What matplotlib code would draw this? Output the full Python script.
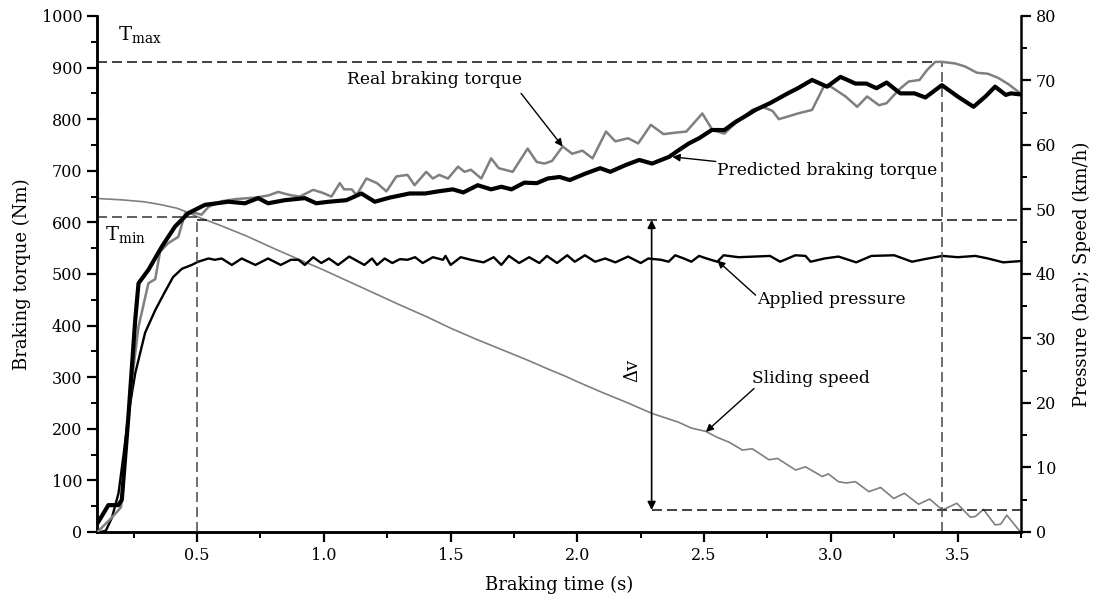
import numpy as np
import matplotlib.pyplot as plt
from matplotlib.ticker import MultipleLocator

plt.rcParams['font.family'] = 'DejaVu Serif'
plt.rcParams['mathtext.fontset'] = 'custom'
plt.rcParams['mathtext.rm'] = 'DejaVu Serif'

# real braking torque (Nm)
t_real = [0.111, 0.164, 0.2, 0.243, 0.269, 0.308, 0.335, 0.354, 0.387, 0.426, 0.453, 0.492, 0.518,
          0.545, 0.597, 0.65, 0.728, 0.78, 0.82, 0.866, 0.905, 0.958, 0.997, 1.03, 1.063, 1.08,
          1.11, 1.129, 1.168, 1.21, 1.247, 1.286, 1.33, 1.358, 1.404, 1.43, 1.455, 1.49, 1.529,
          1.555, 1.58, 1.621, 1.66, 1.69, 1.745, 1.804, 1.84, 1.87, 1.9, 1.942, 1.98, 2.02, 2.06,
          2.113, 2.15, 2.2, 2.24, 2.29, 2.34, 2.39, 2.43, 2.493, 2.533, 2.58, 2.61, 2.64, 2.69,
          2.73, 2.77, 2.795, 2.87, 2.926, 2.972, 3.0, 3.058, 3.104, 3.143, 3.19, 3.22, 3.268,
          3.307, 3.35, 3.379, 3.412, 3.44, 3.49, 3.53, 3.576, 3.62, 3.66, 3.7, 3.748]
real = [2, 28, 48, 294, 398, 482, 490, 543, 560, 572, 618, 618, 615,
        630, 641, 645, 648, 652, 659, 653, 650, 663, 657, 650, 676, 664,
        664, 653, 685, 676, 660, 689, 692, 672, 698, 685, 692, 685, 708,
        698, 702, 685, 724, 705, 698, 743, 717, 714, 719, 747, 733, 739, 724,
        776, 757, 763, 753, 789, 771, 774, 776, 811, 779, 772, 786, 799, 818,
        824, 816, 800, 811, 818, 863, 863, 844, 824, 844, 827, 831, 857,
        873, 876, 895, 911, 911, 908, 902, 890, 888, 880, 868, 850]

# predicted braking torque (Nm)
t_pred = [0.111, 0.15, 0.189, 0.203, 0.23, 0.256, 0.269, 0.308, 0.361, 0.413, 0.466, 0.531, 0.623,
          0.689, 0.741, 0.78, 0.846, 0.925, 0.97, 1.02, 1.089, 1.148, 1.201, 1.26, 1.338, 1.4,
          1.45, 1.509, 1.55, 1.607, 1.66, 1.7, 1.74, 1.791, 1.84, 1.883, 1.93, 1.97, 2.034, 2.09,
          2.13, 2.19, 2.244, 2.295, 2.362, 2.4, 2.44, 2.48, 2.53, 2.58, 2.625, 2.66, 2.703, 2.76,
          2.83, 2.87, 2.926, 2.985, 3.038, 3.097, 3.14, 3.18, 3.22, 3.274, 3.33, 3.373, 3.438,
          3.5, 3.563, 3.61, 3.648, 3.69, 3.71, 3.748]
pred = [20, 52, 52, 62, 230, 411, 482, 508, 553, 592, 618, 634, 640,
        637, 647, 637, 643, 647, 637, 640, 643, 656, 640, 648, 656, 656,
        660, 664, 658, 672, 664, 669, 664, 677, 676, 685, 688, 682, 695, 705,
        698, 711, 721, 714, 727, 740, 753, 763, 779, 779, 795, 805, 818, 831,
        850, 860, 876, 863, 882, 869, 869, 860, 871, 850, 850, 842, 866,
        844, 824, 844, 863, 847, 850, 848]

# applied pressure (bar)
t_pres = [0.12, 0.14, 0.164, 0.19, 0.21, 0.23, 0.256, 0.295, 0.335, 0.37, 0.405, 0.44, 0.479,
          0.504, 0.545, 0.57, 0.597, 0.637, 0.676, 0.73, 0.78, 0.83, 0.87, 0.9, 0.925, 0.958,
          0.99, 1.02, 1.056, 1.1, 1.16, 1.19, 1.21, 1.24, 1.27, 1.3, 1.33, 1.36, 1.39, 1.43,
          1.47, 1.48, 1.5, 1.54, 1.58, 1.63, 1.67, 1.7, 1.73, 1.77, 1.81, 1.85, 1.88, 1.92, 1.96,
          1.99, 2.03, 2.07, 2.11, 2.15, 2.2, 2.25, 2.28, 2.33, 2.36, 2.386, 2.42, 2.45, 2.48,
          2.51, 2.552, 2.577, 2.636, 2.7, 2.76, 2.8, 2.86, 2.9, 2.92, 2.975, 3.03, 3.1, 3.16,
          3.25, 3.32, 3.37, 3.44, 3.5, 3.57, 3.62, 3.68, 3.748]
pres = [0.0, 0.2, 2.2, 6.0, 12.0, 18.4, 24.6, 30.9, 34.4, 37.0, 39.5, 40.8, 41.4,
        41.9, 42.4, 42.2, 42.4, 41.4, 42.4, 41.4, 42.4, 41.4, 42.2, 42.2, 41.4, 42.6,
        41.7, 42.4, 41.4, 42.7, 41.4, 42.4, 41.4, 42.4, 41.7, 42.3, 42.2, 42.6, 41.7, 42.6,
        42.2, 42.8, 41.4, 42.6, 42.2, 41.8, 42.6, 41.4, 42.8, 41.7, 42.6, 41.7, 42.8, 41.7, 42.9,
        41.9, 42.9, 41.9, 42.4, 41.8, 42.7, 41.7, 42.4, 42.2, 41.9, 42.9, 42.4, 41.9, 42.8,
        42.4, 41.9, 42.9, 42.6, 42.7, 42.8, 41.9, 42.9, 42.8, 41.9, 42.4, 42.7, 41.8, 42.8,
        42.9, 41.9, 42.3, 42.8, 42.6, 42.8, 42.4, 41.8, 42.0]

# sliding speed (km/h)
t_speed = [0.106, 0.2, 0.289, 0.35, 0.42, 0.46, 0.5, 0.6, 0.7, 0.8, 0.905, 1.0, 1.1, 1.2, 1.3,
           1.404, 1.5, 1.6, 1.7, 1.8, 1.9, 1.95, 2.0, 2.1, 2.2, 2.293, 2.4, 2.45, 2.507, 2.55,
           2.6, 2.651, 2.69, 2.756, 2.79, 2.861, 2.9, 2.966, 2.99, 3.03, 3.06, 3.097, 3.15,
           3.196, 3.248, 3.29, 3.346, 3.39, 3.44, 3.497, 3.55, 3.57, 3.602, 3.648, 3.67, 3.694,
           3.748]
speed = [51.7, 51.5, 51.2, 50.8, 50.2, 49.6, 48.9, 47.4, 45.8, 44.0, 42.2, 40.6, 38.8, 37.0, 35.2,
         33.4, 31.6, 29.9, 28.3, 26.7, 25.0, 24.2, 23.3, 21.6, 20.0, 18.4, 17.0, 16.1, 15.6, 14.7,
         13.9, 12.7, 12.9, 11.2, 11.4, 9.6, 10.1, 8.6, 9.0, 7.8, 7.6, 7.8, 6.25,
         6.9, 5.2, 6.0, 4.3, 5.1, 3.4, 4.45, 2.3, 2.4, 3.5, 1.1, 1.2, 2.6,
         0.0]

t_min_time, t_max_time = 0.5, 3.44
T_min, T_max = 611, 911
v_start, v_end = 48.4, 3.4
dv_time = 2.293

fig = plt.figure(figsize=(10.93, 6.05), dpi=100)
ax = fig.add_axes([0.0887, 0.1207, 0.8454, 0.8529])
ax2 = ax.twinx()

gray = '#7f7f7f'
dash = dict(ls=(0, (6, 3)), lw=1.2)

ax2.plot(t_speed, speed, color=gray, lw=1.2, zorder=2)
ax2.plot(t_pres, pres, color='black', lw=1.7, zorder=3)
ax.plot(t_real, real, color=gray, lw=1.8, zorder=3)
ax.plot(t_pred, pred, color='black', lw=3.0, zorder=4)
ax.set_zorder(ax2.get_zorder() + 1)
ax.patch.set_visible(False)

# reference lines
ax.plot([0.105, t_max_time], [T_max, T_max], color='#222222', **dash)
ax.plot([t_max_time, t_max_time], [0, T_max], color='#555555', **dash)
ax.plot([0.105, t_min_time], [T_min, T_min], color='#444444', **dash)
ax.plot([t_min_time, t_min_time], [0, T_min], color='#555555', **dash)
ax2.plot([t_min_time, 3.75], [v_start, v_start], color='#222222', **dash)
ax2.plot([dv_time, 3.75], [v_end, v_end], color='#222222', **dash)
ax2.annotate('', xy=(dv_time, v_end), xytext=(dv_time, v_start),
             arrowprops=dict(arrowstyle='<|-|>', color='black', lw=1.2, mutation_scale=12,
                             shrinkA=0, shrinkB=0))

ax.text(0.189, 963, r'T$_{\rm max}$', fontsize=14, ha='left', va='center')
ax.text(0.138, 575, r'T$_{\rm min}$', fontsize=14, ha='left', va='center')
ax.text(2.22, 314, r'$\Delta$v', fontsize=13, ha='center', va='center', rotation=90)

arrow = dict(arrowstyle='-|>', color='black', lw=1.0, mutation_scale=11, shrinkA=0, shrinkB=0)
ax.annotate('Real braking torque', xy=(1.942, 747), xytext=(1.437, 876), fontsize=12.3,
            ha='center', va='center')
ax.annotate('', xy=(1.942, 747), xytext=(1.778, 850), arrowprops=arrow)
ax.annotate('Predicted braking torque', xy=(2.375, 727), xytext=(2.984, 701), fontsize=12.3,
            ha='center', va='center')
ax.annotate('', xy=(2.375, 727), xytext=(2.546, 718), arrowprops=arrow)
ax.annotate('Applied pressure', xy=(2.552, 526), xytext=(3.004, 451), fontsize=12.3,
            ha='center', va='center')
ax.annotate('', xy=(2.552, 526), xytext=(2.703, 459), arrowprops=arrow)
ax.annotate('Sliding speed', xy=(2.507, 194), xytext=(2.92, 298), fontsize=12.3,
            ha='center', va='center')
ax.annotate('', xy=(2.507, 194), xytext=(2.697, 278), arrowprops=arrow)

ax.set_xlim(0.105, 3.75)
ax.set_ylim(0, 1000)
ax2.set_ylim(0, 80)
ax.xaxis.set_major_locator(MultipleLocator(0.5))
ax.xaxis.set_minor_locator(MultipleLocator(0.25))
ax.yaxis.set_major_locator(MultipleLocator(100))
ax.yaxis.set_minor_locator(MultipleLocator(50))
ax2.yaxis.set_major_locator(MultipleLocator(10))
ax2.yaxis.set_minor_locator(MultipleLocator(5))
ax.set_xticks([0.5, 1.0, 1.5, 2.0, 2.5, 3.0, 3.5])
ax.set_xticklabels(['0.5', '1.0', '1.5', '2.0', '2.5', '3.0', '3.5'])

for a in (ax, ax2):
    a.spines['top'].set_visible(False)
    for s in a.spines.values():
        s.set_linewidth(1.8)
    a.tick_params(which='major', direction='out', length=7, width=1.6, labelsize=11.5)
    a.tick_params(which='minor', direction='out', length=4, width=1.4)
ax.spines['right'].set_visible(False)

ax.set_xlabel('Braking time (s)', fontsize=13, labelpad=9)
ax.set_ylabel('Braking torque (Nm)', fontsize=13, labelpad=8)
ax2.set_ylabel('Pressure (bar); Speed (km/h)', fontsize=13, labelpad=12)

fig.savefig('out.png', dpi=100)
